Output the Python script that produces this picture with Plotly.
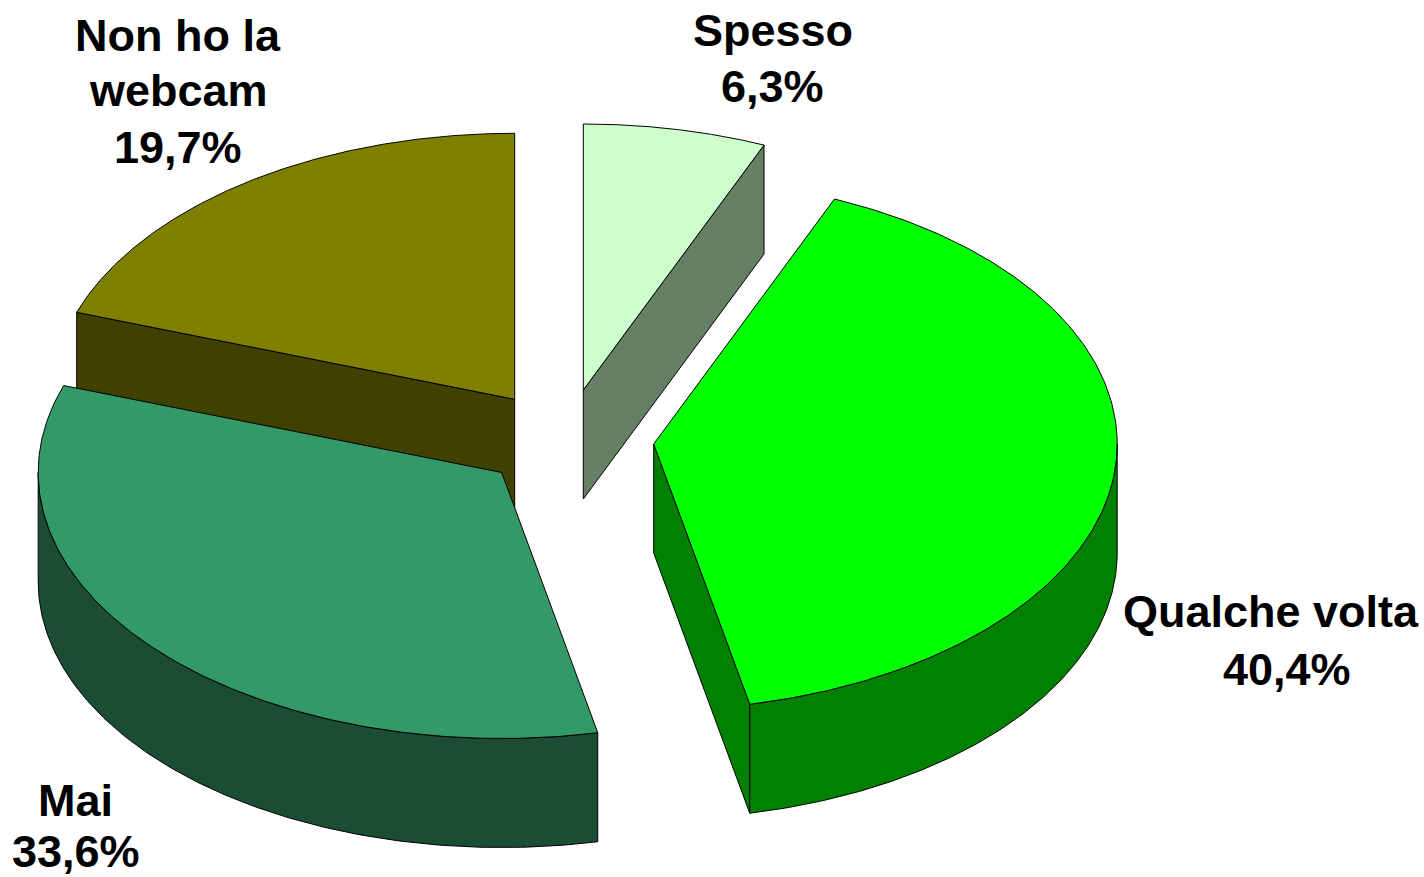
import numpy as np
import plotly.graph_objects as go

categories = ["Spesso", "Qualche volta", "Mai", "Non ho la webcam"]
values = [6.3, 40.4, 33.6, 19.7]

top_colors = ["#CCFFCC", "#00FF00", "#339966", "#808000"]
side_colors = ["#668066", "#008000", "#1A4D33", "#404000"]

# pie geometry, in picture units
RX, RY, DEPTH = 463.5, 266, 109
apex_x = [583.3, 653.7, 501.7, 514.7]
apex_y = [390, 444, 472.5, 399.3]
draw_order = [3, 0, 1, 2]
# small shift of the slice boundaries, in degrees, from the rendering's perspective
boundary_nudge = [0.27, -0.08, 0.0, 0.0]

# label layout: (category index, line text, x, y)
label_lines = [
    (3, "Non ho la", 178, 35),
    (3, "webcam", 178, 90),
    (3, None, 178, 147),
    (0, "Spesso", 772.5, 30),
    (0, None, 772, 86),
    (1, "Qualche volta", 1271, 611),
    (1, None, 1287, 669),
    (2, "Mai", 75, 800),
    (2, None, 76, 851),
]

fractions = np.array(values) / sum(values)
ends = np.cumsum(fractions) * 2 * np.pi + np.radians(boundary_nudge)
starts = np.r_[0.0, ends[:-1]]


def pt(i, a):
    return apex_x[i] + RX * np.sin(a), apex_y[i] - RY * np.cos(a)


def poly(xs, ys, color):
    xs, ys = list(xs), list(ys)
    return go.Scatter(
        x=xs + xs[:1], y=ys + ys[:1], mode="lines", fill="toself",
        fillcolor=color, line=dict(color="#000000", width=1),
        hoverinfo="skip", showlegend=False,
    )


fig = go.Figure()
for i in draw_order:
    s, e = starts[i], ends[i]
    cx, cy = apex_x[i], apex_y[i]

    # radial wall: the side of the slice that faces the viewer
    radial = {0: e, 1: e, 3: s}.get(i)
    if radial is not None:
        ex, ey = pt(i, radial)
        fig.add_trace(poly([cx, ex, ex, cx], [cy, ey, ey + DEPTH, cy + DEPTH], side_colors[i]))

    # outer wall: the part of the rim on the lower half of the ellipse
    lo, hi = max(s, np.pi / 2), min(e, 3 * np.pi / 2)
    if hi > lo:
        a = np.linspace(lo, hi, 160)
        ax, ay = pt(i, a)
        fig.add_trace(poly(np.r_[ax, ax[::-1]], np.r_[ay, ay[::-1] + DEPTH], side_colors[i]))

    # top face
    a = np.linspace(s, e, 240)
    ax, ay = pt(i, a)
    fig.add_trace(poly(np.r_[cx, ax], np.r_[cy, ay], top_colors[i]))

for i, text, x, y in label_lines:
    if text is None:
        text = f"{values[i]:.1f}".replace(".", ",") + "%"
    fig.add_annotation(
        x=x, y=y, text=text, showarrow=False, xanchor="center", yanchor="middle",
        font=dict(family="Liberation Sans", size=45, color="#000000", weight="bold"),
    )

fig.update_layout(
    width=1424, height=877, margin=dict(l=0, r=0, t=0, b=0),
    paper_bgcolor="#FFFFFF", plot_bgcolor="#FFFFFF", showlegend=False,
    xaxis=dict(range=[0, 1424], visible=False, fixedrange=True),
    yaxis=dict(range=[877, 0], visible=False, fixedrange=True),
)
fig.write_html("out.html", config={"displayModeBar": False},
               post_script="document.body.style.margin='0';")
